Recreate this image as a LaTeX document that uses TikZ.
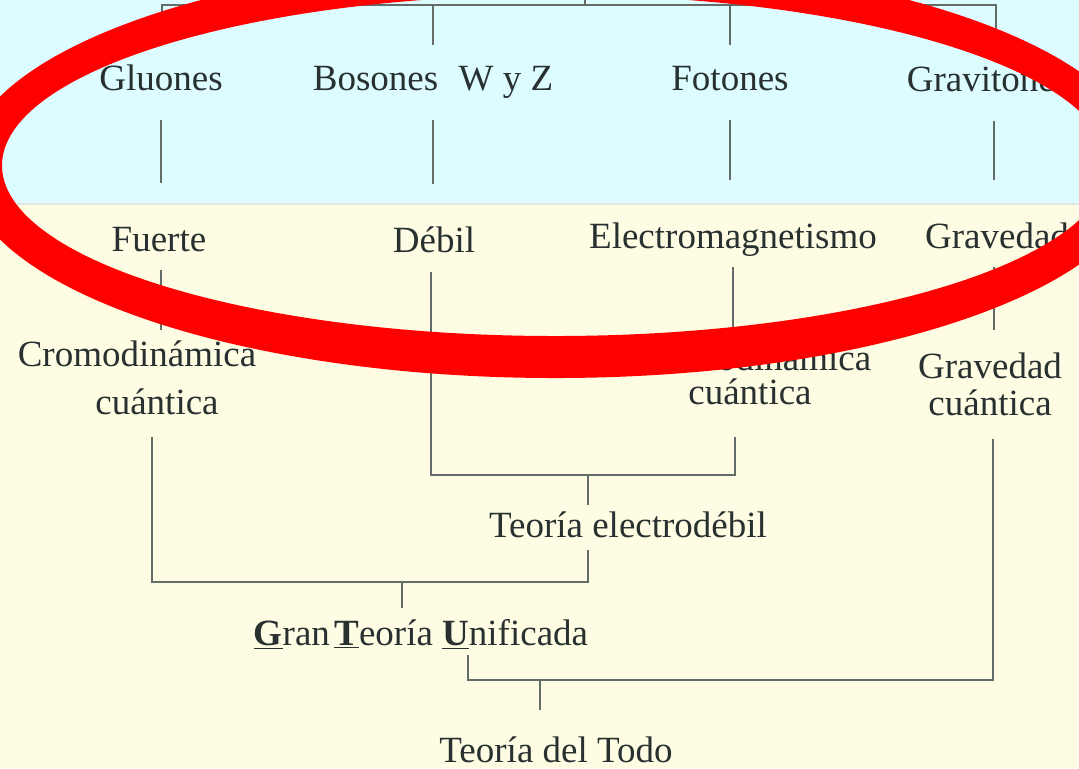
\documentclass[tikz,border=0pt]{standalone}
\usepackage{fontspec}
\setmainfont{Liberation Serif}
\definecolor{skyband}{RGB}{220,252,255}
\definecolor{creamband}{RGB}{254,253,228}
\definecolor{bandrule}{RGB}{226,230,226}
\definecolor{linkgray}{RGB}{100,108,104}
\definecolor{inkgray}{RGB}{40,48,48}
\definecolor{markred}{RGB}{255,0,0}

\begin{document}
\begin{tikzpicture}[
    x=0.5pt, y=-0.5pt,
    term/.style={font=\fontsize{18.5}{22}\selectfont, text=inkgray, inner sep=0pt, text height=13pt, text depth=4pt, anchor=base},
    pair/.style={font=\fontsize{18.5}{22}\selectfont, text=inkgray, inner sep=0pt, align=center},
    link/.style={draw=linkgray, line width=1.1pt}
]
\useasboundingbox (0,0) rectangle (1079,768);
\clip (0,0) rectangle (1079,768);

% bands
\fill[skyband] (0,0) rectangle (1079,203);
\fill[creamband] (0,205) rectangle (1079,768);
\draw[bandrule, line width=1pt] (0,204) -- (1079,204);

% particles
\node[term] (glu) at (161,90) {Gluones};
\node[term] (bos) at (433,90) {Bosones\hspace{0.55em}W y Z};
\node[term] (fot) at (730,90) {Fotones};
\node[term] (grav) at (988,91) {Gravitones};

% forces
\node[term] (fue) at (159,251) {Fuerte};
\node[term] (deb) at (434,252) {Débil};
\node[term] (ele) at (733,248) {Electromagnetismo};
\node[term] (grd) at (997,248) {Gravedad};

% theories
\node[pair] (qcd) at (137,378) {Cromodinámica\\[2pt]\hspace*{20pt}cuántica};
\node[pair] (qed) at (750,375) {Electrodinámica\\[-5pt]cuántica};
\node[pair] (gq) at (990,384) {Gravedad\\[-3.5pt]cuántica};
\node[term] (ewk) at (628,537) {Teoría electrodébil};
\node[term] (gut) at (421,645) {\underline{\textbf{G}}ran\hspace{0.12em}\underline{\textbf{T}}eoría \underline{\textbf{U}}nificada};
\node[term] (toe) at (556,762) {Teoría del Todo};

% junctions
\coordinate (root) at (585,-20);
\coordinate (topbar) at (585,5);
\coordinate (ewkbar) at (588,475);
\coordinate (gutbar) at (402,582);
\coordinate (toebar) at (540,680);

% particle bus
\draw[link, shorten <=9.5pt, shorten >=10pt] ([xshift=0.5pt]glu.north) |- (topbar) -| ([xshift=4pt]grav.north);
\draw[link] (topbar) -- (root);
\foreach \p in {bos,fot}
  \draw[link, shorten <=9.5pt] (\p.north) -- (\p.north |- topbar);

% particles to forces
\foreach \p/\f in {glu/fue, bos/deb, fot/ele}
  \draw[link, shorten <=11pt, shorten >=21pt] (\p.south) -- (\p.south |- \f.north);
\draw[link, shorten <=11pt, shorten >=21pt] ([xshift=3pt]grav.south) -- ([xshift=3pt]grav.south |- grd.north);

% forces to theories
\draw[link, shorten <=5.5pt, shorten >=5.5pt] ([xshift=1pt]fue.south) -- ([xshift=1pt]fue.south |- qcd.north);
\draw[link, shorten <=5.5pt, shorten >=8.5pt] (ele.south) -- (ele.south |- qed.north);
\draw[link, shorten <=5.5pt, shorten >=11pt] ([xshift=-1.5pt]grd.south) -- ([xshift=-1.5pt]grd.south |- gq.north);

% electroweak
\draw[link, shorten <=6pt, shorten >=16pt] ([xshift=-1.5pt]deb.south) |- (ewkbar) -| ([xshift=-7.5pt]qed.south);
\draw[link, shorten >=3pt] (ewkbar) -- (ewkbar |- ewk.north);

% grand unification
\draw[link, shorten <=11pt, shorten >=2.5pt] ([xshift=7.5pt]qcd.south) |- (gutbar) -| ([xshift=-20pt]ewk.south);
\draw[link, shorten >=5.5pt] (gutbar) -- (gutbar |- gut.north);

% theory of everything
\draw[link, shorten <=1pt, shorten >=11.5pt] ([xshift=23.5pt]gut.south) |- (toebar) -| ([xshift=1.5pt]gq.south);
\draw[link, shorten >=13pt] (toebar) -- (toebar |- toe.north);

% red mark
\fill[markred, even odd rule]
  (555,168) ellipse [x radius=590, y radius=210]
  (555,165.5) ellipse [x radius=553, y radius=170.5];
\end{tikzpicture}
\end{document}
